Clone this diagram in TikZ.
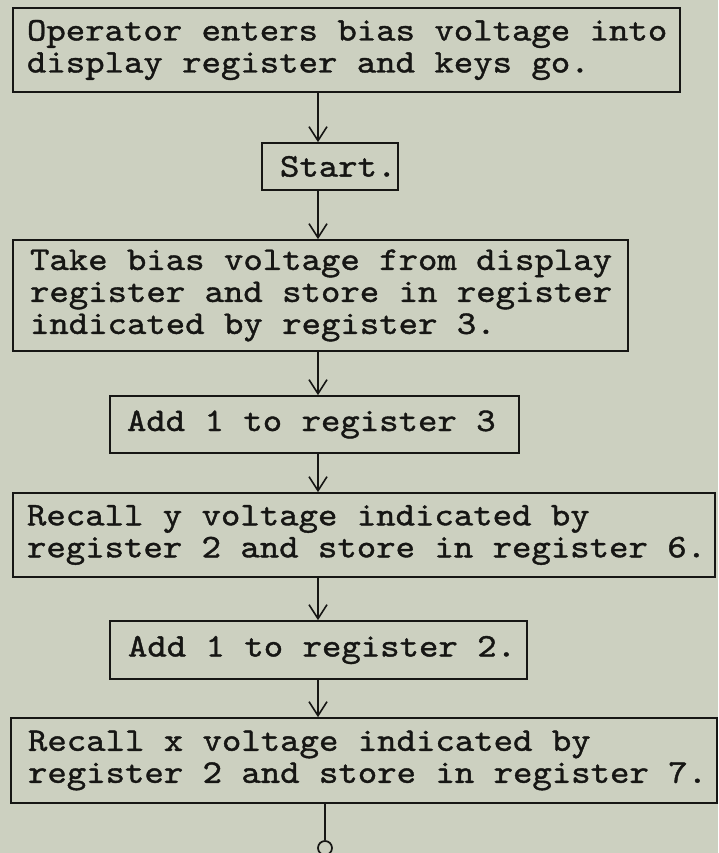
\documentclass[tikz,border=0pt]{standalone}
\usepackage{fontspec}
\newfontfamily\tw{lmmono10-regular.otf}[FakeStretch=1.12,FakeBold=1.2]
\DeclareRobustCommand\twfont{\tw\fontsize{33}{32}\selectfont}
\newcommand\gp{\hspace*{19.4pt}}
\usetikzlibrary{arrows.meta}
\definecolor{paper}{RGB}{204,208,192}
\definecolor{ink}{RGB}{22,22,20}
\begin{document}
\begin{tikzpicture}[x=1pt,y=-1pt,
  box/.style={draw=ink, line width=1.7pt, align=left, inner ysep=0pt, text=ink,
    font=\twfont},
  arr/.style={draw=ink, line width=1.8pt, -{Straight Barb[length=14pt,width=18pt,line width=1.6pt]}},
  conn/.style={draw=ink, line width=1.8pt}]
\fill[paper] (0,0) rectangle (718,853);
\useasboundingbox (0,0) rectangle (718,853);
\node[box, text width=639pt, inner xsep=14pt, minimum height=84pt] (b1) at (346.5,50)
  {\mbox{Operator\gp enters\gp bias\gp voltage\gp into}\\\mbox{display\gp register\gp and\gp keys\gp go.}};
\node[box, text width=100pt, inner xsep=18pt, minimum height=47pt] (b2) at (330,166.5)
  {\mbox{Start.}};
\node[box, text width=581pt, inner xsep=17pt, minimum height=111pt] (b3) at (320.5,295.5)
  {\mbox{Take\gp bias\gp voltage\gp from\gp display}\\\mbox{register\gp and\gp store\gp in\gp register}\\\mbox{indicated\gp by\gp register\gp 3.}};
\node[box, text width=375pt, inner xsep=17pt, minimum height=57pt] (b4) at (314.5,424.5)
  {\mbox{Add\gp 1\gp to\gp register\gp 3}};
\node[box, text width=674pt, inner xsep=14pt, minimum height=84pt] (b5) at (364,535)
  {\mbox{Recall\gp y\gp voltage\gp indicated\gp by}\\\mbox{register\gp 2\gp and\gp store\gp in\gp register\gp 6.}};
\node[box, text width=381pt, inner xsep=18pt, minimum height=58pt] (b6) at (318.5,650)
  {\mbox{Add\gp 1\gp to\gp register\gp 2.}};
\node[box, text width=672pt, inner xsep=17pt, minimum height=85pt] (b7) at (364,760.5)
  {\mbox{Recall\gp x\gp voltage\gp indicated\gp by}\\\mbox{register\gp 2\gp and\gp store\gp in\gp register\gp 7.}};
\node[circle, draw=ink, line width=1.7pt, minimum size=14pt, inner sep=0pt] (c) at (325,848) {};
\coordinate (ax) at (318,0);
\coordinate (cx) at (325,0);
\draw[arr] (b1.south -| ax) -- (b2.north -| ax);
\draw[arr] (b2.south -| ax) -- (b3.north -| ax);
\draw[arr] (b3.south -| ax) -- (b4.north -| ax);
\draw[arr] (b4.south -| ax) -- (b5.north -| ax);
\draw[arr] (b5.south -| ax) -- (b6.north -| ax);
\draw[arr] (b6.south -| ax) -- (b7.north -| ax);
\draw[conn] (b7.south -| cx) -- (c.north);
\end{tikzpicture}
\end{document}
